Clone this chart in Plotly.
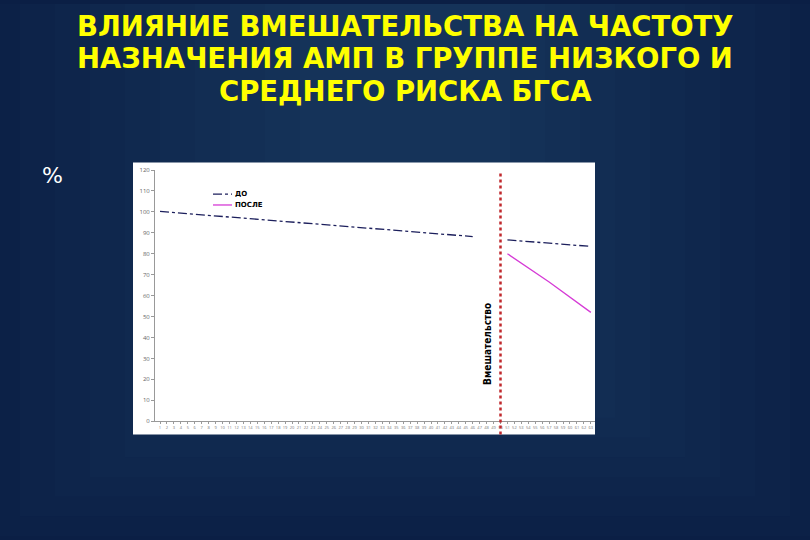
import plotly.graph_objects as go

# периоды наблюдения (номер месяца) и частота назначения АМП, %
periods = list(range(1, 64))
do_x = [1, 11, 21, 31, 41, 46, None, 51, 57, 63]
do_y = [100.2, 97.6, 95.0, 92.4, 89.6, 88.2, None, 86.6, 85.0, 83.5]
posle_x = [51, 57, 63]
posle_y = [80.0, 66.5, 52.0]
intervention = 50

title_lines = [
    "ВЛИЯНИЕ ВМЕШАТЕЛЬСТВА НА ЧАСТОТУ",
    "НАЗНАЧЕНИЯ АМП В ГРУППЕ НИЗКОГО И",
    "СРЕДНЕГО РИСКА БГСА",
]

W, H = 810, 540

def px(x):
    return x / W

def py(y):
    return (H - y) / H

fig = go.Figure()

fig.add_trace(go.Scatter(
    x=do_x, y=do_y, name="ДО", mode="lines",
    line=dict(color="#1c1f5c", width=1.3, dash="dashdot"),
))
fig.add_trace(go.Scatter(
    x=posle_x, y=posle_y, name="ПОСЛЕ", mode="lines",
    line=dict(color="#d63cd6", width=1.3),
))

# мягкое осветление середины фона
for k in range(10):
    half = 420 - 35 * k
    fig.add_shape(type="rect", xref="paper", yref="paper",
                  x0=px(405 - half), x1=px(405 + half), y0=py(540 - 20 * k), y1=1,
                  fillcolor="#5a86c4", opacity=0.018, line=dict(width=0), layer="below")

# белая подложка диаграммы
fig.add_shape(type="rect", xref="paper", yref="paper",
              x0=px(133), x1=px(595), y0=py(437), y1=py(161),
              fillcolor="white", line=dict(width=0), layer="below")

# линия вмешательства
fig.add_shape(type="line", xref="x", yref="paper",
              x0=intervention, x1=intervention, y0=py(437), y1=py(172),
              line=dict(color="#c0282d", width=2.5, dash="dot"))

fig.add_annotation(text="<b>Вмешательство</b>", xref="paper", yref="paper",
                   x=px(488), y=py(345), textangle=-90, showarrow=False,
                   xanchor="center", yanchor="middle",
                   font=dict(family="DejaVu Sans Condensed", size=10, color="black"))

# легенда вручную (короткие образцы линий)
legend_items = [("ДО", "#1c1f5c", "dashdot", 193), ("ПОСЛЕ", "#d63cd6", "solid", 204)]
for name, color, dash, yy in legend_items:
    fig.add_shape(type="line", xref="paper", yref="paper",
                  x0=px(213), x1=px(232), y0=py(yy), y1=py(yy),
                  line=dict(color=color, width=1.3, dash=dash))
    fig.add_annotation(text="<b>" + name + "</b>", xref="paper", yref="paper",
                       x=px(233), y=py(yy), xanchor="left", yanchor="middle",
                       showarrow=False,
                       font=dict(family="DejaVu Sans", size=7, color="black"))

for i, line in enumerate(title_lines):
    fig.add_annotation(text="<b>" + line + "</b>", xref="paper", yref="paper",
                       x=0.5, y=py(22 + 33 * i), xanchor="center", yanchor="middle",
                       showarrow=False,
                       font=dict(family="DejaVu Sans", size=27.5, color="#ffff00"))

fig.add_annotation(text="%", xref="paper", yref="paper", x=px(52), y=py(174),
                   xanchor="center", yanchor="middle", showarrow=False,
                   font=dict(family="DejaVu Sans", size=22, color="white"))

fig.update_layout(
    width=W, height=H,
    margin=dict(l=0, r=0, t=0, b=0),
    paper_bgcolor="#0b1f45",
    plot_bgcolor="white",
    showlegend=False,
    xaxis=dict(domain=[px(155), px(595)], range=[0.28, 63.6],
               tickmode="array", tickvals=periods, tickangle=0,
               tickfont=dict(size=4, color="#777"),
               showgrid=False, zeroline=False,
               showline=True, linecolor="#999", linewidth=1,
               ticks="outside", ticklen=2, tickcolor="#999"),
    yaxis=dict(domain=[py(423.5), py(168.5)], range=[0, 120], dtick=10,
               tickfont=dict(size=6, color="#666"),
               showgrid=False, zeroline=False,
               showline=True, linecolor="#999", linewidth=1,
               ticks="outside", ticklen=3, tickcolor="#999"),
)

fig.write_html("out.html", config={"displayModeBar": False},
               post_script="document.body.style.margin='0';"
                           "document.body.style.overflow='hidden';")
